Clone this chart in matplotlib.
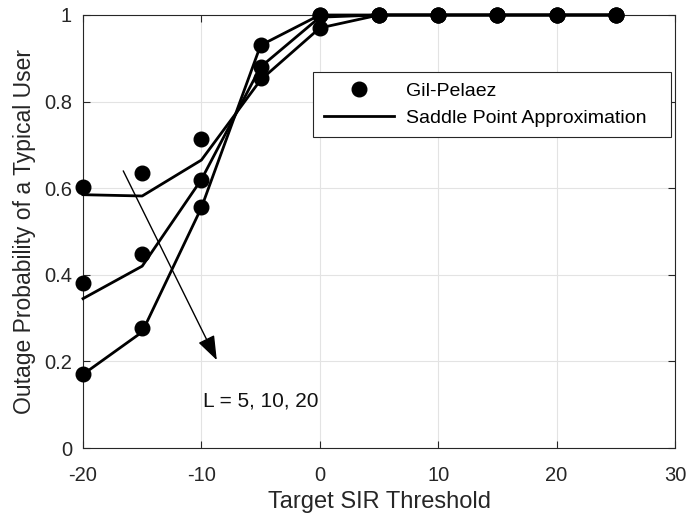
import matplotlib
matplotlib.use("Agg")
import matplotlib.pyplot as plt

plt.rcParams['font.family'] = ['Liberation Sans', 'DejaVu Sans']
plt.rcParams['axes.unicode_minus'] = False

x_line = [-20, -15, -10, -5, 0, 5, 10, 15, 20, 25]
x_pts = [-20, -15, -10, -5, 0, 5, 10, 15, 20, 25]

sp_L5 = [0.585, 0.582, 0.665, 0.85, 0.97, 1.0, 1.0, 1.0, 1.0, 1.0]
sp_L10 = [0.345, 0.42, 0.62, 0.88, 0.995, 1.0, 1.0, 1.0, 1.0, 1.0]
sp_L20 = [0.17, 0.268, 0.555, 0.93, 1.0, 1.0, 1.0, 1.0, 1.0, 1.0]

gp_L5 = [0.603, 0.635, 0.713, 0.855, 0.97, 1.0, 1.0, 1.0, 1.0, 1.0]
gp_L10 = [0.381, 0.449, 0.62, 0.88, 1.0, 1.0, 1.0, 1.0, 1.0, 1.0]
gp_L20 = [0.17, 0.277, 0.556, 0.93, 1.0, 1.0, 1.0, 1.0, 1.0, 1.0]

xticks = [-20, -10, 0, 10, 20, 30]
yticks = [0, 0.2, 0.4, 0.6, 0.8, 1]
yticklabels = ['0', '0.2', '0.4', '0.6', '0.8', '1']

fig = plt.figure(figsize=(6.89, 5.16), dpi=100)
ax = fig.add_axes([83 / 689, 68 / 516, 592 / 689, 433 / 516])

for i, (gp, sp) in enumerate([(gp_L5, sp_L5), (gp_L10, sp_L10), (gp_L20, sp_L20)]):
    ax.plot(x_pts, gp, 'o', color='black', markersize=10.5, clip_on=False,
            label='Gil-Pelaez' if i == 0 else None, zorder=3)
    ax.plot(x_line, sp, '-', color='black', linewidth=2.0, clip_on=False,
            label='Saddle Point Approximation' if i == 0 else None, zorder=3)

ax.annotate('', xy=(-8.7, 0.203), xytext=(-16.6, 0.64),
            arrowprops=dict(arrowstyle='-|>,head_length=1.5,head_width=0.55', color='black', lw=1.0,
                            shrinkA=0, shrinkB=0))
ax.text(-9.85, 0.109, 'L = 5, 10, 20', fontsize=15, va='center', ha='left', color='#111111')

ax.set_xlim(-20, 30)
ax.set_ylim(0, 1)
ax.set_xticks(xticks)
ax.set_yticks(yticks)
ax.set_yticklabels(yticklabels)
ax.grid(True, color='#e3e3e3', linewidth=0.8)
ax.set_axisbelow(True)
ax.tick_params(direction='in', top=True, right=True, labelsize=14.5, length=5,
               colors='#262626', labelcolor='#262626')
ax.tick_params(axis='x', pad=13)
ax.tick_params(axis='y', pad=8)
for s in ax.spines.values():
    s.set_color('#262626')
    s.set_linewidth(0.8)
ax.set_xlabel('Target SIR Threshold', fontsize=17, color='#262626', labelpad=4.5)
ax.set_ylabel('Outage Probability of a Typical User', fontsize=16.5, color='#262626', labelpad=6)

leg = ax.legend(loc='upper left', bbox_to_anchor=(230 / 592, (448 - 141) / 433, 358 / 592, 69 / 433),
                mode='expand', fontsize=14, frameon=True, fancybox=False, edgecolor='#262626',
                framealpha=1, handlelength=3.6, handletextpad=0.65, borderaxespad=0, borderpad=0.55,
                labelspacing=0.45)
leg.get_frame().set_linewidth(0.8)

fig.savefig('out.png', dpi=100)
